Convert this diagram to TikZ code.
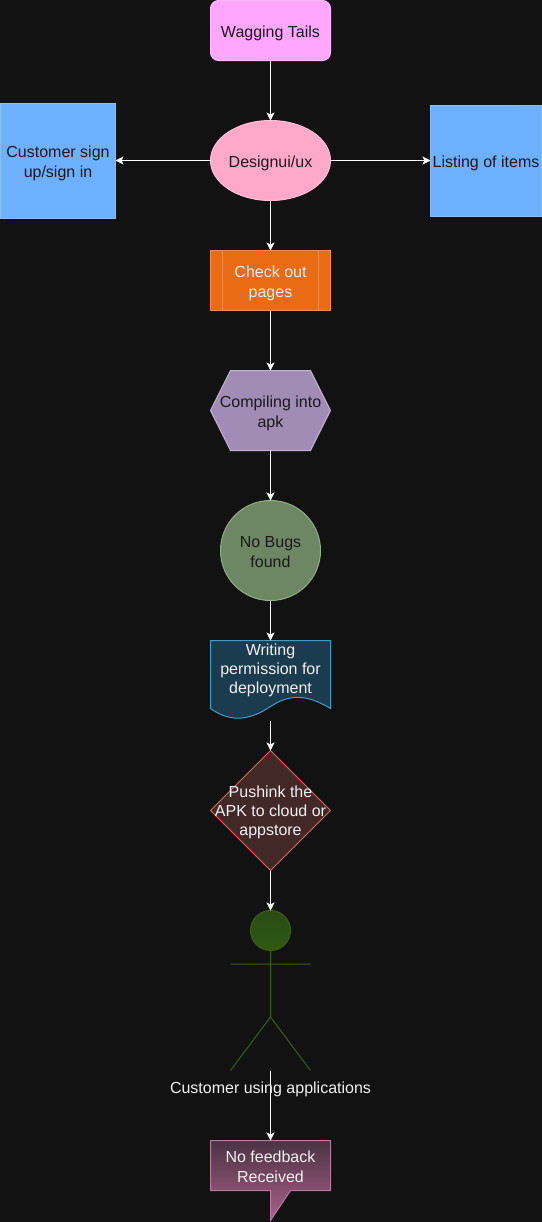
\documentclass[tikz,border=0pt]{standalone}
\usepackage{fontspec}
\setmainfont{Liberation Sans}
\usetikzlibrary{arrows.meta}
\definecolor{bg}{HTML}{121212}
\definecolor{wagf}{HTML}{FFA6FF}\definecolor{wagd}{HTML}{FFB8FF}
\definecolor{elf}{HTML}{FFA8C8}\definecolor{eld}{HTML}{FFC0D8}
\definecolor{blf}{HTML}{6CB0FF}\definecolor{bld}{HTML}{8CBCF0}
\definecolor{orf}{HTML}{E96B13}\definecolor{ord}{HTML}{FF8A50}
\definecolor{hxf}{HTML}{A08CB4}\definecolor{hxd}{HTML}{C4B4D4}
\definecolor{cif}{HTML}{6D8764}\definecolor{cid}{HTML}{94AE88}
\definecolor{dof}{HTML}{1B3C4E}\definecolor{dod}{HTML}{3E9CC8}
\definecolor{dif}{HTML}{432828}\definecolor{did}{HTML}{D0705F}
\definecolor{acd}{HTML}{3A6018}\definecolor{act}{HTML}{2A4A16}\definecolor{acb}{HTML}{2F5A12}
\definecolor{cad}{HTML}{B878A0}\definecolor{cat}{HTML}{4A3344}\definecolor{cab}{HTML}{AC6088}
\definecolor{darkt}{HTML}{1A1A1A}\definecolor{litet}{HTML}{F0F0F0}
\tikzset{
  x=0.75pt,y=-0.75pt,
  shapeline/.style={line width=0.75pt},
  txt/.style={font=\fontsize{12pt}{15pt}\selectfont,align=center,inner sep=0pt,outer sep=0pt,text=darkt},
  lite/.style={txt,text=litet},
  tight/.style={font=\fontsize{12pt}{14.25pt}\selectfont},
  conn/.style={draw=white,line width=0.75pt,-{Stealth[length=6pt,width=6pt,inset=1.4pt]}},
  anchorbox/.style={inner sep=0pt,outer sep=0pt},
}
\begin{document}
\begin{tikzpicture}
\useasboundingbox[fill=bg] (0,0) rectangle (542,1222);
% shapes
\path[shapeline,fill=wagf,draw=wagd,rounded corners=6pt] (210.5,0.5) rectangle (330.5,60.5);
\path[shapeline,fill=elf,draw=eld] (270.5,160.5) ellipse [x radius=60,y radius=40];
\path[shapeline,fill=blf,draw=bld] (0.5,103.5) rectangle (115.5,218.5);
\path[shapeline,fill=blf,draw=bld] (430.5,105.5) rectangle (541.5,216.5);
\path[shapeline,fill=orf,draw=ord] (210.5,250.5) rectangle (330.5,310.5);
\path[shapeline,draw=ord] (222.5,250.5) -- (222.5,310.5) (318.5,250.5) -- (318.5,310.5);
\path[shapeline,fill=hxf,draw=hxd] (210.5,410.5) -- (230.5,370.5) -- (310.5,370.5) -- (330.5,410.5) -- (310.5,450.5) -- (230.5,450.5) -- cycle;
\path[shapeline,fill=cif,draw=cid] (270.5,550.5) circle [radius=50];
\path[shapeline,fill=dof,draw=dod] (210.5,640.5) -- (330.5,640.5) -- (330.5,708.5) .. controls (305,693) and (288,695) .. (270.5,706.5) .. controls (252,719) and (232,724) .. (210.5,708.5) -- cycle;
\path[shapeline,fill=dif,draw=did] (270.5,750.5) -- (330.5,810.5) -- (270.5,870.5) -- (210.5,810.5) -- cycle;
\path[shapeline,top color=act,bottom color=acb,draw=acd] (270.5,930.5) circle [radius=20];
\path[shapeline,draw=acd] (270.5,950.5) -- (270.5,1017) (230.5,964) -- (310.5,964) (230.5,1070.5) -- (270.5,1017) -- (310.5,1070.5);
\path[shapeline,top color=cat,bottom color=cab,draw=cad] (210.5,1140.5) -- (330.5,1140.5) -- (330.5,1190.5) -- (290.5,1190.5) -- (270.5,1220.5) -- (270.5,1190.5) -- (210.5,1190.5) -- cycle;
% boxes that the connectors attach to
\node[anchorbox,minimum width=90pt,minimum height=45pt] (wag) at (270.5,30.5) {};
\node[anchorbox,minimum width=90pt,minimum height=60pt] (des) at (270.5,160.5) {};
\node[anchorbox,minimum width=86.25pt,minimum height=86.25pt] (cus) at (58,160.5) {};
\node[anchorbox,minimum width=83.25pt,minimum height=83.25pt] (lis) at (486,160.5) {};
\node[anchorbox,minimum width=90pt,minimum height=45pt] (chk) at (270.5,280.5) {};
\node[anchorbox,minimum width=90pt,minimum height=60pt] (hex) at (270.5,410.5) {};
\node[anchorbox,minimum width=75pt,minimum height=75pt] (cir) at (270.5,550.5) {};
\node[anchorbox,minimum width=90pt,minimum height=60pt] (doc) at (270.5,680.5) {};
\node[anchorbox,minimum width=90pt,minimum height=90pt] (dia) at (270.5,810.5) {};
\node[anchorbox,minimum width=60pt,minimum height=120pt] (act) at (270.5,990.5) {};
\node[anchorbox,minimum width=90pt,minimum height=60pt] (cal) at (270.5,1180.5) {};
% texts
\node[txt] (wagl) at (270.5,33) {Wagging Tails};
\node[txt] (desl) at (270.5,163) {Designui/ux};
\node[txt] (cusl) at (58,163) {Customer sign\\up/sign in};
\node[txt] (lisl) at (486,163) {Listing of items};
\node[lite] (chkl) at (270.5,283.5) {Check out\\pages};
\node[txt] (hexl) at (270.5,413) {Compiling into\\apk};
\node[txt] (cirl) at (270.5,552) {No Bugs\\found};
\node[lite,tight] (docl) at (270.5,670) {Writing\\permission for\\deployment};
\node[lite,tight] (dial) at (270.5,812.5) {Pushink the\\APK to cloud or\\appstore};
\node[lite] (actl) at (270.5,1089) {Customer using applications};
\node[lite] (call) at (270.5,1166.5) {No feedback\\Received};
% connectors
\draw[conn] (wag.south) -- (des.north);
\draw[conn] (des.west) -- (cus.east);
\draw[conn] (des.east) -- (lis.west);
\draw[conn] (des.south) -- (chk.north);
\draw[conn] (chk.south) -- (hex.north);
\draw[conn] (hex.south) -- (cir.north);
\draw[conn] (cir.south) -- (doc.north);
\draw[conn] (doc.south) -- (dia.north);
\draw[conn] (dia.south) -- (act.north);
\draw[conn] (act.south) -- (cal.north);
\end{tikzpicture}
\end{document}
